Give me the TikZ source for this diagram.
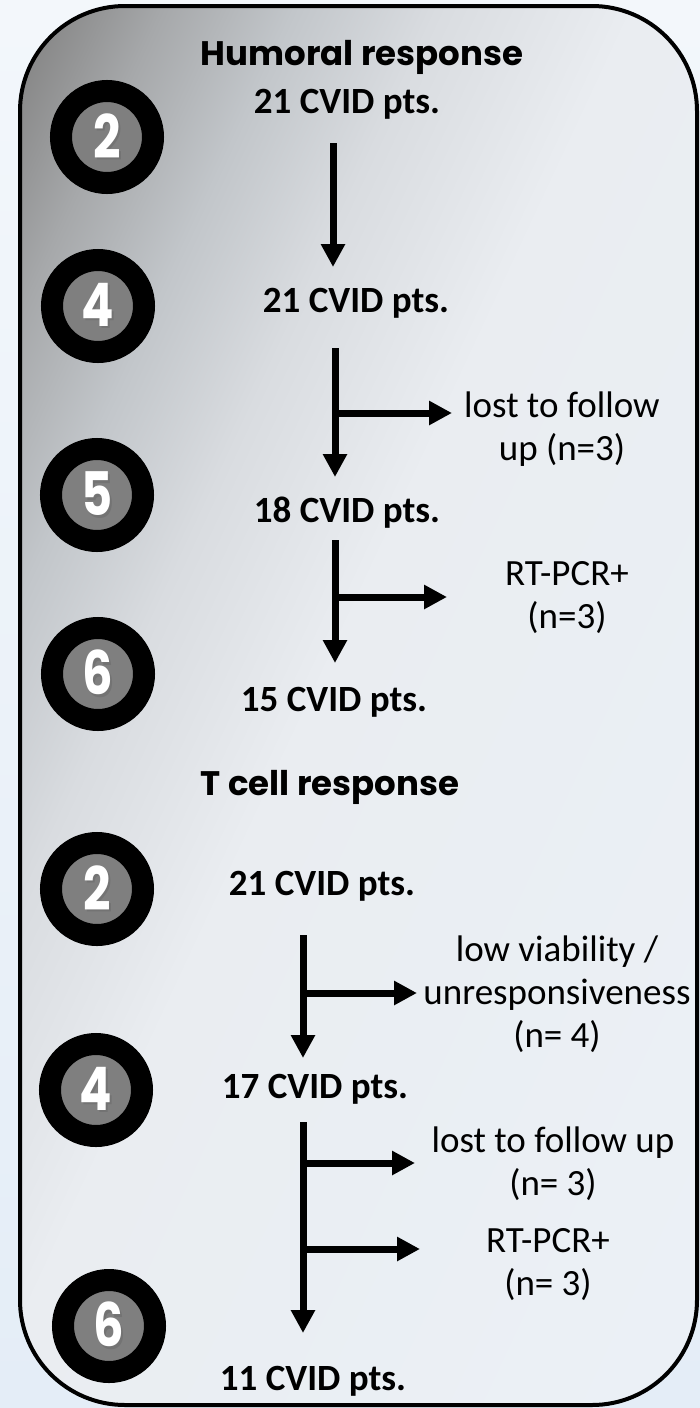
\documentclass[tikz,border=0pt]{standalone}
\usepackage{fontspec}
\setmainfont{Carlito}
\newfontfamily\gothic{Poppins}
\usetikzlibrary{arrows.meta}
\definecolor{bgtop}{HTML}{F3F7FB}
\definecolor{bgbot}{HTML}{E4EDF7}
\definecolor{ga}{HTML}{7C7C7C}
\definecolor{gb}{HTML}{878787}
\definecolor{gc}{HTML}{A6A8AA}
\definecolor{gd}{HTML}{C2C6CA}
\definecolor{ge}{HTML}{D9DCE0}
\definecolor{gf}{HTML}{EAEDF1}
\definecolor{gg}{HTML}{EBF1F7}
\definecolor{ringgray}{HTML}{7F7F7F}
\pgfdeclarehorizontalshading{boxgrad}{100bp}{color(0bp)=(ga); color(25bp)=(ga); color(26.9bp)=(gb); color(30.8bp)=(gc); color(35.4bp)=(gd); color(40.4bp)=(ge); color(47.3bp)=(gf); color(75bp)=(gg); color(100bp)=(gg)}
\newcommand\shdigit[1]{\scalebox{0.8}[1]{\rlap{\kern1.3pt\raisebox{-1.3pt}{\textcolor{black!55}{#1}}}\textcolor{white}{#1}}}
\begin{document}
\begin{tikzpicture}[x=0.5pt,y=-0.5pt,
  cnt/.style={font=\fontsize{18.5pt}{21.5pt}\selectfont\bfseries, anchor=base, inner sep=0pt},
  side/.style={font=\fontsize{18.5pt}{21.5pt}\selectfont, align=center, anchor=base, inner sep=0pt},
  head/.style={font=\fontsize{17pt}{20pt}\gothic\bfseries\selectfont, anchor=base, inner sep=0pt},
  stage/.style={circle, draw=black, line width=11pt, fill=ringgray, minimum size=46pt, inner sep=0pt, outer sep=0pt, font=\fontsize{30pt}{30pt}\gothic\bfseries\selectfont},
  arr/.style={line width=3.5pt, -{Triangle[length=11.5pt,width=11.5pt]}},
  frame/.style={line width=2pt, draw=black, rounded corners=52.5pt}
  ]
\useasboundingbox (0,0) rectangle (700,1408);
\shade[top color=bgtop, bottom color=bgbot] (0,0) rectangle (700,1408);
\begin{scope}
  \clip[rounded corners=52.5pt] (20,6) rectangle (697,1405);
  \shade[shading=boxgrad, transform canvas={rotate=-25}] (0,-400) rectangle (1300,1400);
\end{scope}
\draw[frame] (20,6) rectangle (697,1405);

% headings and counts
\node[head] (hum) at (362,65) {Humoral response};
\node[cnt] (h1) at (347,113) {21 CVID pts.};
\node[cnt] (h2) at (356,312) {21 CVID pts.};
\node[cnt] (h3) at (347,522) {18 CVID pts.};
\node[cnt] (h4) at (334,711) {15 CVID pts.};
\node[head] (tcr) at (330,795) {T cell response};
\node[cnt] (t1) at (322,895) {21 CVID pts.};
\node[cnt] (t2) at (315,1098) {17 CVID pts.};
\node[cnt] (t3) at (313,1390) {11 CVID pts.};

% side labels (anchored at the baseline of their last line)
\node[side] (l1) at (562,460) {lost to follow\\up (n=3)};
\node[side] (l2) at (567,628) {RT-PCR+\\(n=3)};
\node[side] (l3) at (557,1047) {low viability /\\unresponsiveness\\(n= 4)};
\node[side] (l4) at (553,1195) {lost to follow up\\(n= 3)};
\node[side] (l5) at (548,1295) {RT-PCR+\\(n= 3)};

% stage circles
\node[stage] (s1) at (107,137) {\shdigit{2}};
\node[stage] (s2) at (98,306) {\shdigit{4}};
\node[stage] (s3) at (97,495) {\shdigit{5}};
\node[stage] (s4) at (98,674) {\shdigit{6}};
\node[stage] (s5) at (97,889) {\shdigit{2}};
\node[stage] (s6) at (96,1090) {\shdigit{4}};
\node[stage] (s7) at (109,1326) {\shdigit{6}};

% arrow end points
\coordinate (a1s) at (333,143); \coordinate (a1e) at (333,267);
\coordinate (a2s) at (335,348); \coordinate (a2e) at (335,477);
\coordinate (b2s) at (335,413); \coordinate (b2e) at (452,413);
\coordinate (a3s) at (335,540); \coordinate (a3e) at (335,663);
\coordinate (b3s) at (335,597); \coordinate (b3e) at (447,597);
\coordinate (t1s) at (303,935); \coordinate (t1e) at (303,1058);
\coordinate (c1s) at (303,993); \coordinate (c1e) at (417,993);
\coordinate (t2s) at (303,1122); \coordinate (t2e) at (303,1333);
\coordinate (c2s) at (303,1163); \coordinate (c2e) at (415,1163);
\coordinate (c3s) at (303,1249); \coordinate (c3e) at (420,1249);

\draw[arr] (a1s) -- (a1e);
\draw[arr] (a2s) -- (a2e);
\draw[arr] (b2s) -- (b2e);
\draw[arr] (a3s) -- (a3e);
\draw[arr] (b3s) -- (b3e);
\draw[arr] (t1s) -- (t1e);
\draw[arr] (c1s) -- (c1e);
\draw[arr] (t2s) -- (t2e);
\draw[arr] (c2s) -- (c2e);
\draw[arr] (c3s) -- (c3e);
\end{tikzpicture}
\end{document}
